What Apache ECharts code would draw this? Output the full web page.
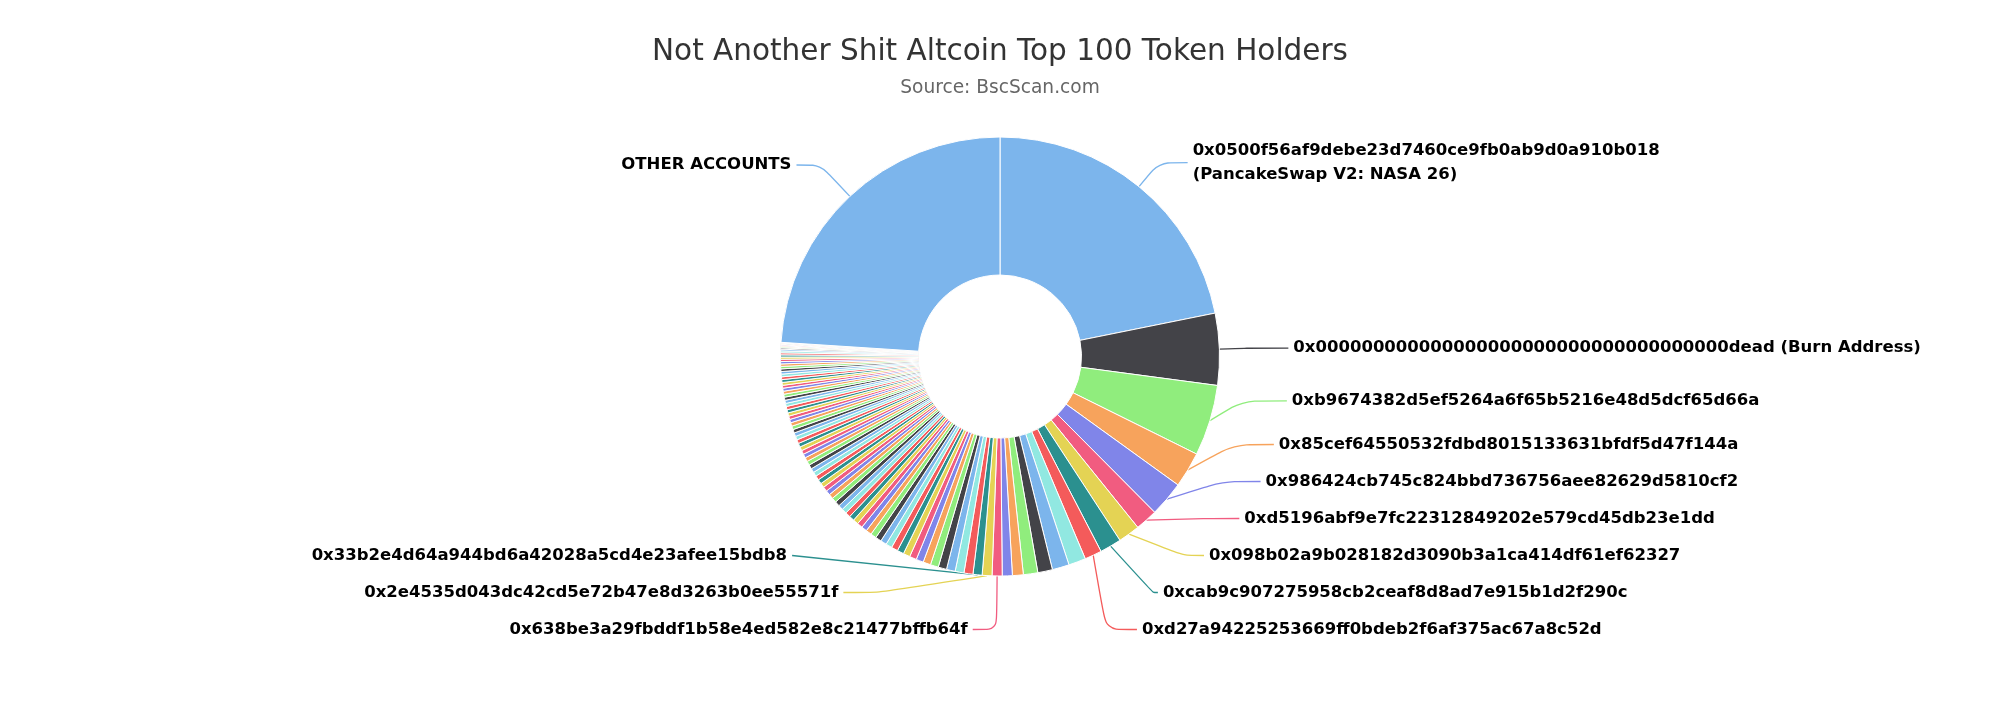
<!DOCTYPE html>
<html>
<head>
<meta charset="utf-8">
<script src="https://cdn.jsdelivr.net/npm/echarts@6/dist/echarts.min.js"></script>
<style>
  html, body { margin: 0; padding: 0; background: #ffffff; }
  #chart { width: 2000px; height: 701px; }
</style>
</head>
<body>
<div id="chart"></div>
<script>
// ---------- data ----------
const titleText = 'Not Another Shit Altcoin Top 100 Token Holders';
const subtitleText = 'Source: BscScan.com';

// share of supply (%) held by each of the top 100 holders, rank 1..100
const holderShares = [
  21.83, 5.28, 5.22, 2.62, 2.61, 1.64, 1.60, 1.59, 1.26, 1.26,
  1.25, 1.08, 1.06, 0.80, 0.74, 0.74, 0.72, 0.67, 0.66, 0.65,
  0.64, 0.62, 0.59, 0.56, 0.54, 0.52, 0.50, 0.49, 0.48, 0.46,
  0.45, 0.44, 0.43, 0.42, 0.41, 0.40, 0.39, 0.38, 0.38, 0.37,
  0.36, 0.36, 0.35, 0.35, 0.34, 0.34, 0.33, 0.33, 0.32, 0.32,
  0.31, 0.31, 0.30, 0.30, 0.29, 0.29, 0.29, 0.28, 0.28, 0.27,
  0.27, 0.26, 0.26, 0.26, 0.25, 0.25, 0.24, 0.24, 0.24, 0.23,
  0.23, 0.23, 0.22, 0.22, 0.22, 0.21, 0.21, 0.21, 0.20, 0.20,
  0.19, 0.19, 0.18, 0.18, 0.17, 0.17, 0.16, 0.16, 0.15, 0.14,
  0.12, 0.10, 0.08, 0.07, 0.06, 0.05, 0.04, 0.04, 0.03, 0.03
];
const otherAccountsName = 'OTHER ACCOUNTS';
const otherAccountsShare = 23.97;

// ranks whose address label is drawn on the chart
const labelledRanks = [1, 2, 3, 4, 5, 6, 7, 8, 9, 16, 17, 18];
const labelledAddresses = [
  '0x0500f56af9debe23d7460ce9fb0ab9d0a910b018\n(PancakeSwap V2: NASA 26)',
  '0x000000000000000000000000000000000000dead (Burn Address)',
  '0xb9674382d5ef5264a6f65b5216e48d5dcf65d66a',
  '0x85cef64550532fdbd8015133631bfdf5d47f144a',
  '0x986424cb745c824bbd736756aee82629d5810cf2',
  '0xd5196abf9e7fc22312849202e579cd45db23e1dd',
  '0x098b02a9b028182d3090b3a1ca414df61ef62327',
  '0xcab9c907275958cb2ceaf8d8ad7e915b1d2f290c',
  '0xd27a94225253669ff0bdeb2f6af375ac67a8c52d',
  '0x638be3a29fbddf1b58e4ed582e8c21477bffb64f',
  '0x2e4535d043dc42cd5e72b47e8d3263b0ee55571f',
  '0x33b2e4d64a944bd6a42028a5cd4e23afee15bdb8'
];

const palette = ['#7cb5ec', '#434348', '#90ed7d', '#f7a35c', '#8085e9',
                 '#f15c80', '#e4d354', '#2b908f', '#f45b5b', '#91e8e1'];

// ---------- build ----------
const FONT = 'DejaVu Sans';
const CENTER = [1000, 356.5];
const RADIUS = [81.5, 219.5];
// horizontal connector segment per labelled rank (layout styling)
const connectorLen2 = { 2: 44, 3: 45, 4: 40, 5: 38, 6: 33, 7: 20, 8: 5, 9: 31, 16: 24, 17: 36, 18: 42 };

function nameOf(rank) {
  const k = labelledRanks.indexOf(rank);
  return k >= 0 ? labelledAddresses[k] : 'Holder #' + rank;
}

// main series: all slices, labels for every labelled rank except rank 1
const mainData = holderShares.map((v, i) => {
  const rank = i + 1;
  const item = { name: nameOf(rank), value: v };
  if (labelledRanks.indexOf(rank) >= 0 && rank !== 1) {
    item.label = { show: true };
    item.labelLine = { show: true };
    if (connectorLen2[rank] != null) item.labelLine.length2 = connectorLen2[rank];
  }
  return item;
});
mainData.push({
  name: otherAccountsName,
  value: otherAccountsShare,
  label: { show: true },
  labelLine: { show: true, length: 43, length2: 24 }
});

// overlay series (invisible slices) carrying the rank-1 label on its own
const overlayData = holderShares.map((v, i) => {
  const rank = i + 1;
  const item = { name: nameOf(rank), value: v };
  if (rank === 1) {
    item.label = { show: true };
    item.labelLine = { show: true, lineStyle: { color: palette[0] } };
  }
  return item;
});
overlayData.push({ name: otherAccountsName, value: otherAccountsShare });

const labelBase = {
  show: false,
  position: 'outside',
  color: '#000000',
  fontFamily: FONT,
  fontWeight: 'bold',
  fontSize: 16.5
};

const option = {
  backgroundColor: '#ffffff',
  animation: false,
  color: palette,
  title: {
    left: 'center',
    top: 30,
    text: titleText,
    subtext: subtitleText,
    itemGap: 8.5,
    textStyle: { fontFamily: FONT, fontSize: 29.5, fontWeight: 'normal', color: '#333333', lineHeight: 34 },
    subtextStyle: { fontFamily: FONT, fontSize: 18.6, color: '#666666', lineHeight: 22 }
  },
  series: [
    {
      type: 'pie',
      silent: true,
      left: 0, top: 0, width: 2000, height: 648,
      center: CENTER,
      radius: RADIUS,
      startAngle: 90,
      clockwise: true,
      itemStyle: { color: 'rgba(0,0,0,0)', borderWidth: 0 },
      label: Object.assign({}, labelBase, { lineHeight: 24.5 }),
      labelLine: { show: false, length: 31, length2: 29, smooth: 0.25, lineStyle: { width: 1.3 } },
      emphasis: { disabled: true },
      data: overlayData
    },
    {
      type: 'pie',
      left: 0, top: 0, width: 2000, height: 648,
      center: CENTER,
      radius: RADIUS,
      startAngle: 90,
      clockwise: true,
      avoidLabelOverlap: true,
      itemStyle: { borderColor: '#ffffff', borderWidth: 1 },
      label: Object.assign({}, labelBase, { lineHeight: 35 }),
      labelLine: { show: false, length: 30, length2: 38, smooth: 0.25, lineStyle: { width: 1.3 } },
      emphasis: { disabled: true },
      data: mainData
    }
  ]
};

const chart = echarts.init(document.getElementById('chart'), null, { renderer: 'canvas' });
chart.setOption(option);
</script>
</body>
</html>
